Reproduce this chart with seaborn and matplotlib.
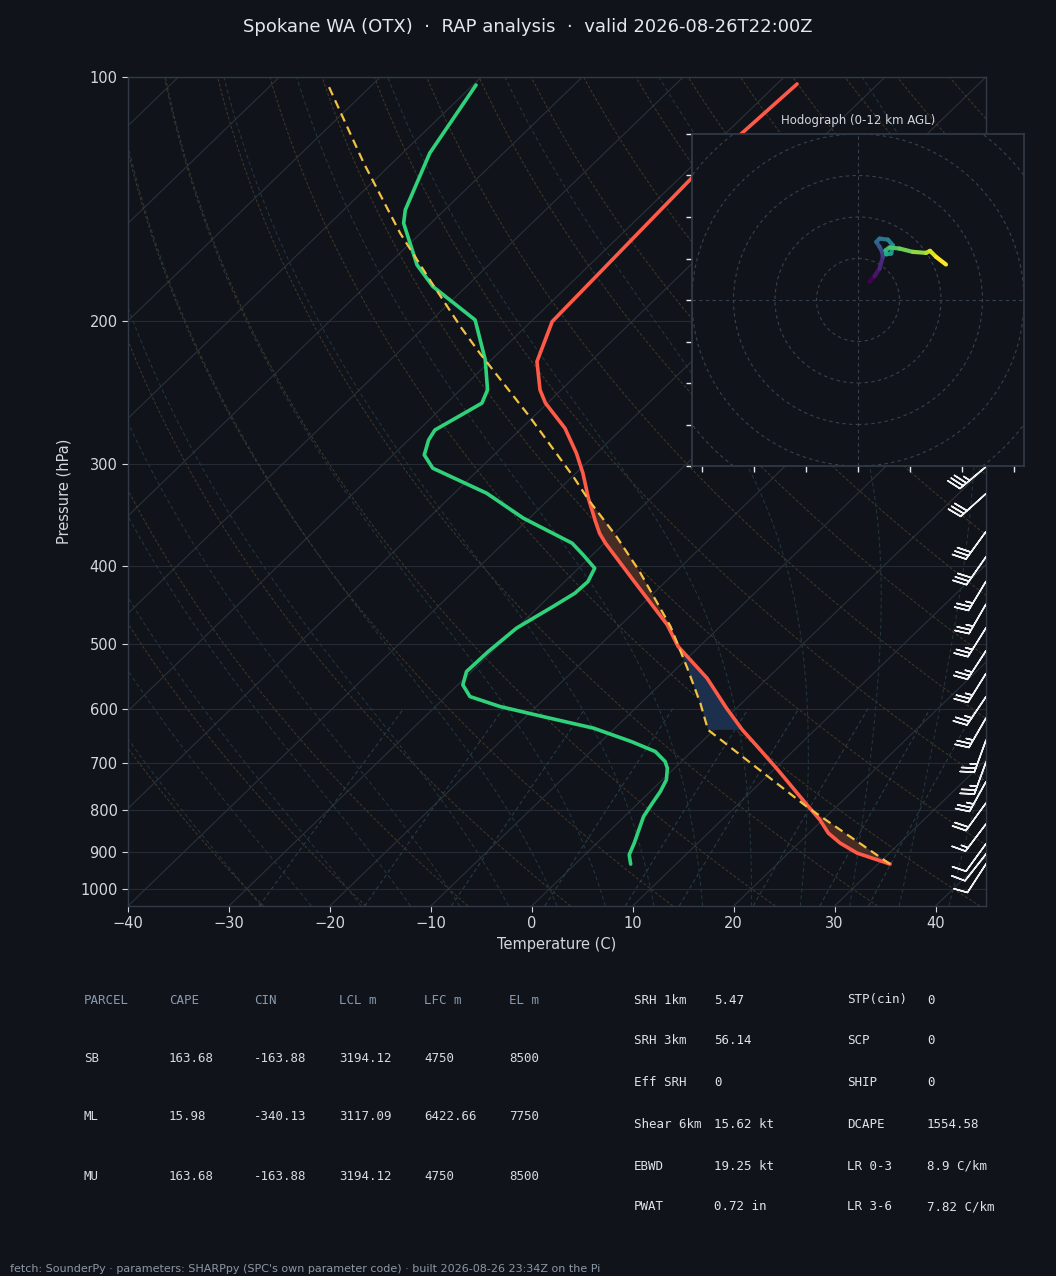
import numpy as np
import matplotlib
matplotlib.use("Agg")
import matplotlib.pyplot as plt
import matplotlib.transforms as mtransforms
from matplotlib.collections import LineCollection
from matplotlib.ticker import FixedLocator, NullLocator, FixedFormatter
import seaborn as sns

# ---- sounding (hPa, degC) ----
t_pres = [932.3, 903.6, 878.4, 853.8, 822.2, 791.8, 751.6, 710.2, 668.0, 637.1,
          599.0, 550.2, 503.0, 473.0, 416.4, 375.2, 364.8, 352.9, 330.3, 307.7,
          290.7, 270.8, 252.2, 242.9, 224.2, 200.1, 133.2, 102.0]
t_vals = [31.2, 26.8, 24.1, 21.9, 19.7, 17.2, 13.8, 10.1, 6.0, 2.8,
          -1.0, -6.0, -12.1, -15.4, -23.4, -29.9, -31.5, -33.1, -36.2, -39.3,
          -42.0, -45.7, -50.2, -52.1, -55.3, -57.9, -58.8, -58.0]

td_pres = [932.3, 908.0, 878.4, 814.6, 784.2, 758.9, 734.1, 710.2, 697.0, 677.5,
           658.6, 634.1, 612.3, 596.3, 579.7, 560.8, 540.0, 510.2, 477.4, 449.1,
           432.4, 418.4, 402.8, 387.9, 375.2, 349.5, 325.6, 303.3, 292.1, 280.0,
           272.2, 252.2, 242.9, 223.1, 199.2, 181.2, 170.4, 151.4, 145.8, 124.1, 102.3]
td_vals = [5.5, 4.4, 3.7, 1.9, 1.4, 1.0, 0.4, -0.7, -1.6, -3.6,
           -7.0, -12.1, -18.7, -23.6, -27.6, -29.5, -30.5, -30.4, -30.0, -28.6,
           -27.8, -27.7, -28.4, -30.9, -33.2, -40.6, -46.8, -54.7, -56.9, -58.0,
           -58.4, -56.5, -57.3, -60.6, -65.7, -73.3, -77.1, -82.7, -83.9, -87.3, -89.7]

parcel_pres = [932.3, 795.5, 637.1, 590.6, 532.4, 475.3, 406.7, 368.1, 331.9, 310.7,
               262.0, 219.0, 203.9, 177.8, 155.8, 127.7, 102.8]
parcel_vals = [31.2, 17.4, -0.6, -4.1, -9.2, -14.9, -23.6, -29.5, -36.0, -39.9,
               -50.4, -61.8, -66.2, -74.3, -82.0, -92.8, -104.1]

# shaded layers: (bottom hPa, top hPa, kind)
shade_layers = [(933, 790, "pos"), (638, 500, "neg"), (504, 330, "pos")]

# wind barbs on the right edge
barb_pres = [932, 906, 880, 832, 784, 738, 698, 656, 616, 580,
             543, 509, 477, 446, 418, 390, 363, 326, 302]
barb_spd = [10, 10, 12, 17, 22, 25, 25, 25, 27, 27,
            27, 27, 27, 27, 27, 30, 30, 32, 35]
barb_dir = [213, 218, 216, 217, 216, 209, 200, 200, 210, 214,
            212, 213, 212, 210, 211, 215, 216, 228, 230]

# hodograph trace (0-12 km)
hodo_u = [5.6, 8.0, 10.4, 12.0, 11.5, 10.4, 8.8, 10.4, 14.4, 16.8,
          16.0, 13.6, 13.3, 15.2, 20.0, 26.4, 32.8, 34.7, 37.6, 42.4]
hodo_v = [8.8, 11.5, 15.2, 20.8, 23.5, 25.6, 28.0, 29.6, 29.1, 26.4,
          22.4, 22.0, 24.0, 25.3, 24.8, 23.2, 22.7, 23.7, 20.8, 17.1]

p_ticks = [100, 200, 300, 400, 500, 600, 700, 800, 900, 1000]
t_ticks = [-40, -30, -20, -10, 0, 10, 20, 30, 40]

title = "Spokane WA (OTX)  \u00b7  RAP analysis  \u00b7  valid 2026-08-26T22:00Z"
footer = ("fetch: SounderPy \u00b7 parameters: SHARPpy (SPC's own parameter code) "
          "\u00b7 built 2026-08-26 23:34Z on the Pi")

tbl_head = ["PARCEL", "CAPE", "CIN", "LCL m", "LFC m", "EL m"]
tbl_rows = [["SB", "163.68", "-163.88", "3194.12", "4750", "8500"],
            ["ML", "15.98", "-340.13", "3117.09", "6422.66", "7750"],
            ["MU", "163.68", "-163.88", "3194.12", "4750", "8500"]]
idx_names1 = ["SRH 1km", "SRH 3km", "Eff SRH", "Shear 6km", "EBWD", "PWAT"]
idx_vals1 = ["5.47", "56.14", "0", "15.62 kt", "19.25 kt", "0.72 in"]
idx_names2 = ["STP(cin)", "SCP", "SHIP", "DCAPE", "LR 0-3", "LR 3-6"]
idx_vals2 = ["0", "0", "0", "1554.58", "8.9 C/km", "7.82 C/km"]

BG = "#10141a"
TXT = "#d3d8de"
SPINE = "#313a46"
GRID = "#242b35"

sns.set_theme(style="ticks", rc={"figure.facecolor": BG, "axes.facecolor": BG,
                                 "axes.edgecolor": SPINE, "text.color": TXT,
                                 "axes.labelcolor": TXT, "xtick.color": TXT,
                                 "ytick.color": TXT})
plt.rcParams['font.family'] = ['DejaVu Sans']

W, H = 1056, 1276
fig = plt.figure(figsize=(W / 100, H / 100), dpi=100)
ax = fig.add_axes([128 / W, 1 - 906 / H, 858 / W, 829 / H])
ax.set_yscale("log")
ax.set_xlim(-40, 45)
ax.set_ylim(1050, 100)

# 45 degree skew applied in axes space
skew = ax.transScale + (ax.transLimits + mtransforms.Affine2D().skew_deg(45, 0)) + ax.transAxes

# background lines
pgrid = np.geomspace(1050, 100, 80)
for t0 in range(-120, 51, 10):
    ax.plot([t0, t0], [1050, 100], transform=skew, color="#29313b", lw=0.8, zorder=1)

for th in np.arange(-30, 201, 10) + 273.15:
    ax.plot(th * (pgrid / 1000.0) ** 0.2857 - 273.15, pgrid, transform=skew,
            color="#433828", lw=0.7, ls=(0, (3, 2)), zorder=1)


def moist_rate(lnp, T):
    p = np.exp(lnp)
    es = 6.112 * np.exp(17.67 * (T - 273.15) / (T - 29.65))
    rs = 0.622 * es / (p - es)
    return (287.04 * T + 2.501e6 * rs) / (1005.7 + 2.501e6 ** 2 * rs * 0.622 / (287.04 * T ** 2))


def moist_adiabat(t0c):
    parts = []
    for grid in (np.linspace(np.log(1000), np.log(1050), 6),
                 np.linspace(np.log(1000), np.log(100), 90)):
        T = t0c + 273.15
        vals = [T]
        for i in range(len(grid) - 1):
            h = grid[i + 1] - grid[i]
            k1 = moist_rate(grid[i], T)
            k2 = moist_rate(grid[i] + h / 2, T + h / 2 * k1)
            k3 = moist_rate(grid[i] + h / 2, T + h / 2 * k2)
            k4 = moist_rate(grid[i + 1], T + h * k3)
            T = T + h / 6 * (k1 + 2 * k2 + 2 * k3 + k4)
            vals.append(T)
        parts.append((np.exp(grid), np.array(vals) - 273.15))
    p = np.r_[parts[0][0][::-1], parts[1][0][1:]]
    t = np.r_[parts[0][1][::-1], parts[1][1][1:]]
    return p, t


for t0 in np.arange(-30, 45.1, 5):
    mp, mt = moist_adiabat(t0)
    ax.plot(mt, mp, transform=skew, color="#23383f", lw=0.7, ls=(0, (4, 3)), zorder=1)

pm = np.geomspace(1050, 600, 20)
for w in [0.0004, 0.001, 0.002, 0.004, 0.007, 0.01, 0.016, 0.024, 0.032]:
    e = pm * w / (0.622 + w)
    lg = np.log(e / 6.112)
    ax.plot(243.5 * lg / (17.67 - lg), pm, transform=skew, color="#28404b",
            lw=0.7, ls=(0, (4, 3)), zorder=1)

# CAPE / CIN shading
pp, pt = np.array(parcel_pres), np.array(parcel_vals)
ep, et = np.array(t_pres), np.array(t_vals)
for p_bot, p_top, kind in shade_layers:
    a = (pp <= p_bot) & (pp >= p_top)
    b = (ep <= p_bot) & (ep >= p_top)
    xs = np.r_[pt[a], et[b][::-1]]
    ys = np.r_[pp[a], ep[b][::-1]]
    ax.fill(xs, ys, transform=skew, color="#472c23" if kind == "pos" else "#1c2f4c",
            lw=0, zorder=2)

# profiles
sns.lineplot(x=td_vals, y=td_pres, sort=False, estimator=None, ax=ax, transform=skew,
             color="#2fd27a", lw=2.6, zorder=4)
sns.lineplot(x=t_vals, y=t_pres, sort=False, estimator=None, ax=ax, transform=skew,
             color="#ff5a48", lw=2.6, zorder=5)
sns.lineplot(x=parcel_vals, y=parcel_pres, sort=False, estimator=None, ax=ax, transform=skew,
             color="#f4c243", lw=1.6, ls=(0, (4, 2.5)), zorder=6)

# wind barbs along the right edge
bd = np.radians(barb_dir)
bu = -np.array(barb_spd) * np.sin(bd)
bv = -np.array(barb_spd) * np.cos(bd)
btrans = mtransforms.blended_transform_factory(ax.transAxes, ax.transData)
ax.barbs(np.ones(len(barb_pres)), barb_pres, bu, bv, transform=btrans,
         length=7, color="#eef0f2", lw=1.1, zorder=7)

ax.set_xlim(-40, 45)
ax.set_ylim(1050, 100)
ax.yaxis.set_major_locator(FixedLocator(p_ticks))
ax.yaxis.set_major_formatter(FixedFormatter([str(p) for p in p_ticks]))
ax.yaxis.set_minor_locator(NullLocator())
ax.xaxis.set_major_locator(FixedLocator(t_ticks))
ax.grid(True, axis="y", color=GRID, lw=0.8)
ax.grid(False, axis="x")
ax.tick_params(labelsize=10.5, length=4, width=0.8, colors=TXT)
ax.set_xlabel("Temperature (C)", fontsize=10.5, color=TXT)
ax.set_ylabel("Pressure (hPa)", fontsize=10.5, color=TXT, labelpad=6)
for s in ax.spines.values():
    s.set_color(SPINE)
    s.set_linewidth(1.0)

# hodograph inset
hx = fig.add_axes([692 / W, 1 - 466 / H, 332 / W, 332 / H])
hx.set_facecolor(BG)
hx.set_xlim(-80, 80)
hx.set_ylim(-80, 80)
for r in [20, 40, 60, 80, 100]:
    hx.add_patch(plt.Circle((0, 0), r, fill=False, ec="#364250", lw=0.8, ls=(0, (3, 3))))
hx.axhline(0, color="#364250", lw=0.8, ls=(0, (3, 3)))
hx.axvline(0, color="#364250", lw=0.8, ls=(0, (3, 3)))
pts = np.column_stack([hodo_u, hodo_v])
segs = np.stack([pts[:-1], pts[1:]], axis=1)
lc = LineCollection(segs, colors=plt.cm.viridis(np.linspace(0, 1, len(segs))),
                    linewidths=3.0, capstyle="round", zorder=3)
hx.add_collection(lc)
hx.set_xticks([-75, -50, -25, 0, 25, 50, 75])
hx.set_yticks(np.arange(-80, 81, 20))
hx.tick_params(labelleft=False, labelbottom=False, length=4, width=1, colors="#e6e9ec")
for s in hx.spines.values():
    s.set_color(SPINE)
hx.set_title("Hodograph (0-12 km AGL)", fontsize=8.5, color=TXT, pad=7)

fig.text(0.5, 1 - 27 / H, title, ha="center", va="center", fontsize=13, color="#e4e8ec")

# parcel table
mono = "DejaVu Sans Mono"
col_x = [84, 169, 254, 339, 424, 509]
row_y = [1058, 1117, 1176]
for cx, hd in zip(col_x, tbl_head):
    fig.text(cx / W, 1 - 1000 / H, hd, family=mono, fontsize=9, color="#8a9bb0", va="center")
for ry, row in zip(row_y, tbl_rows):
    for cx, val in zip(col_x, row):
        fig.text(cx / W, 1 - ry / H, val, family=mono, fontsize=9, color="#d6dbe0", va="center")

idx_y = [1000, 1041, 1083, 1124, 1166, 1207]
for iy, n1, v1, n2, v2 in zip(idx_y, idx_names1, idx_vals1, idx_names2, idx_vals2):
    for x0, s in [(634, n1), (714, v1), (847, n2), (927, v2)]:
        fig.text(x0 / W, 1 - iy / H, s, family=mono, fontsize=9, color="#e0e4e8", va="center")

fig.text(10 / W, 1 - 1269 / H, footer, fontsize=8, color="#8d97a3", va="center")

fig.savefig("out.png", dpi=100, facecolor=BG)
